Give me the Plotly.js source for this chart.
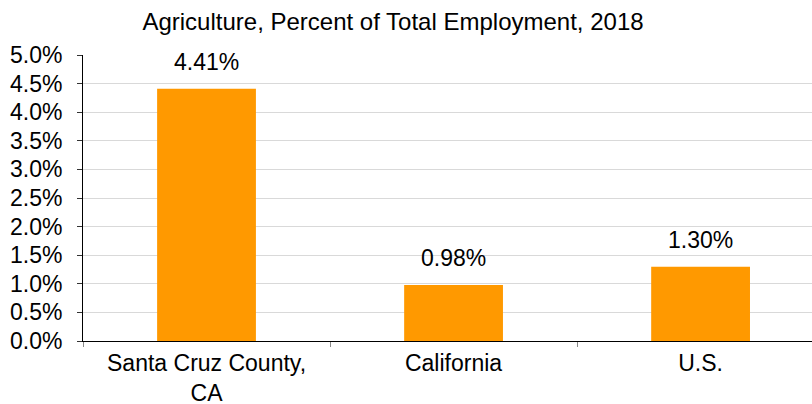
<!DOCTYPE html>
<html>
<head>
<meta charset="utf-8">
<script src="https://cdn.plot.ly/plotly-3.0.1.min.js"></script>
<style>html,body{margin:0;padding:0;background:#fff;}#chart{width:812px;height:404px;}</style>
</head>
<body>
<div id="chart"></div>
<script>
const categories = ["Santa Cruz County,<br>CA", "California", "U.S."];
const values = [4.41, 0.98, 1.30];
const labels = ["4.41%", "0.98%", "1.30%"];
const yTicks = [0, 0.5, 1, 1.5, 2, 2.5, 3, 3.5, 4, 4.5, 5];
const yTickText = ["0.0%", "0.5%", "1.0%", "1.5%", "2.0%", "2.5%", "3.0%", "3.5%", "4.0%", "4.5%", "5.0%"];
const titleText = "Agriculture, Percent of Total Employment, 2018";

const font = "Liberation Sans, Arial, sans-serif";

const trace = {
  type: "bar",
  x: categories,
  y: values,
  marker: {color: "#FF9900"},
  width: 0.4,
  hoverinfo: "none"
};

const annotations = categories.map((c, i) => ({
  x: c, y: values[i], xref: "x", yref: "y",
  text: labels[i], showarrow: false,
  yanchor: "bottom", yshift: 12,
  font: {family: font, size: 23, color: "#000"}
}));

const layout = {
  width: 812, height: 404,
  margin: {l: 83, r: 0, t: 55, b: 63},
  paper_bgcolor: "#fff", plot_bgcolor: "#fff",
  showlegend: false,
  title: {
    text: titleText,
    font: {family: font, size: 24, color: "#000"},
    x: 0.484, xref: "container", xanchor: "center",
    y: 0.946, yref: "container", yanchor: "middle"
  },
  xaxis: {
    type: "category",
    range: [-0.5, 2.451],
    showline: true, linecolor: "#000", linewidth: 1,
    ticks: "outside", tickson: "boundaries", ticklen: 5, tickcolor: "#888",
    ticklabelstandoff: 1,
    showgrid: false, zeroline: false,
    tickfont: {family: font, size: 23, color: "#000"}
  },
  yaxis: {
    range: [0, 5],
    tickvals: yTicks, ticktext: yTickText,
    showline: true, linecolor: "#000", linewidth: 1,
    ticks: "outside", ticklen: 5, tickcolor: "#333",
    ticklabelstandoff: 10,
    showgrid: true, gridcolor: "#d9d9d9", gridwidth: 1,
    zeroline: false,
    tickfont: {family: font, size: 23, color: "#000"}
  },
  annotations: annotations
};

Plotly.newPlot("chart", [trace], layout, {displayModeBar: false, staticPlot: true});
</script>
</body>
</html>
